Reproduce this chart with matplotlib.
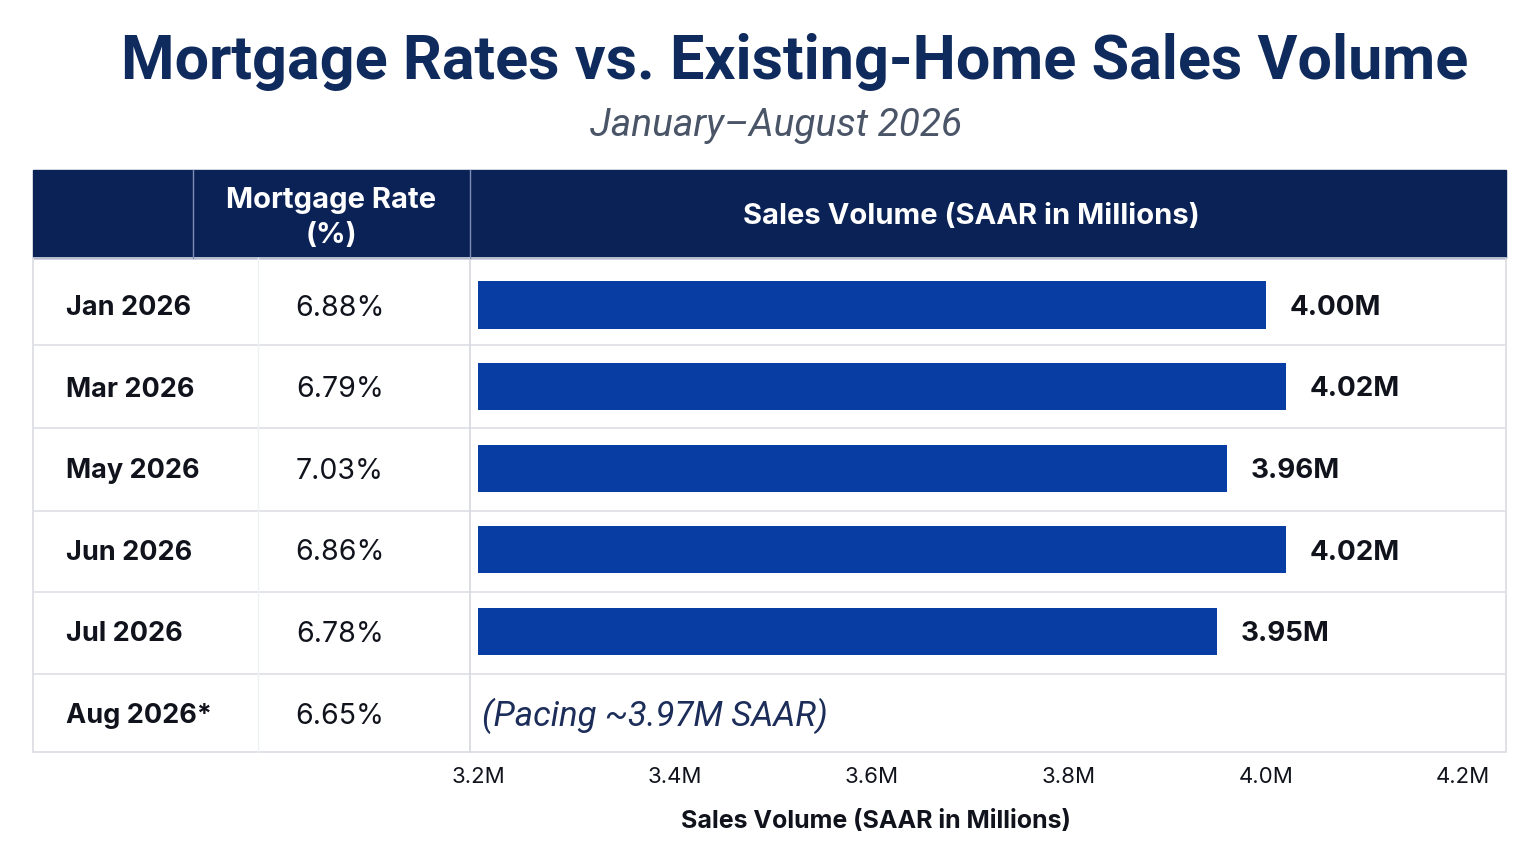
import matplotlib
matplotlib.use("Agg")
import matplotlib.pyplot as plt
from matplotlib.patches import Rectangle
import numpy as np

plt.rcParams['font.family'] = ['Inter', 'Roboto', 'DejaVu Sans']

# data
months = ["Jan 2026", "Mar 2026", "May 2026", "Jun 2026", "Jul 2026", "Aug 2026*"]
rates = [6.88, 6.79, 7.03, 6.86, 6.78, 6.65]
sales = [4.00, 4.02, 3.96, 4.02, 3.95, np.nan]   # Aug has no bar, only a note
pacing_note = "(Pacing ~3.97M SAAR)"
ticks = [3.2, 3.4, 3.6, 3.8, 4.0, 4.2]
base = 3.2

navy = "#0b2257"
bar_blue = "#083ea3"
text_dark = "#10131c"
line_col = "#dfe2e8"

W, H = 1536, 850
fig = plt.figure(figsize=(W / 100, H / 100), dpi=100)
fig.patch.set_facecolor("white")

# layout layer in pixel coords
lay = fig.add_axes([0, 0, 1, 1])
lay.set_xlim(0, W)
lay.set_ylim(H, 0)
lay.axis("off")

left, right = 33, 1506
head_top, body_top, body_bot = 170, 258, 752
c1, c2 = 258, 470
row_lines = [345, 428, 511, 592, 674]
first_row, row_h = 305, 81.6   # centre of first row, spacing

lay.text(795, 62, "Mortgage Rates vs. Existing-Home Sales Volume", ha="center", va="center",
         fontsize=44, fontweight="bold", color="#0f2a5c",
         family=["Liberation Sans Narrow", "Roboto", "DejaVu Sans"])
lay.text(776, 125, "January\u2013August 2026", ha="center", va="center",
         fontsize=28, style="italic", color="#4a5568", family=["Roboto", "DejaVu Sans"])

# header
lay.add_patch(Rectangle((left, head_top), right - left, body_top - head_top, color=navy, zorder=1))
for x in (193, c2):
    lay.plot([x, x], [head_top, body_top], color="#7f8db3", lw=1, zorder=2)
lay.text(331, 218, "Mortgage Rate\n(%)", ha="center", va="center", color="white",
         fontsize=21, fontweight="bold", linespacing=1.35, zorder=3)
lay.text(971, 216, "Sales Volume (SAAR in Millions)", ha="center", va="center", color="white",
         fontsize=21, fontweight="bold", zorder=3)

# body grid
lay.add_patch(Rectangle((left, body_top), right - left, body_bot - body_top, fill=False,
                        ec="#d9dce3", lw=1.2, zorder=1))
for y in row_lines:
    lay.plot([left, right], [y, y], color=line_col, lw=1.3, zorder=1)
lay.plot([c1, c1], [body_top, body_bot], color="#eef0f3", lw=1, zorder=1)
lay.plot([c2, c2], [body_top, body_bot], color="#d5d8de", lw=1.2, zorder=1)

for i, (m, r) in enumerate(zip(months, rates)):
    yc = first_row + i * row_h + 3
    lay.text(66, yc, m, ha="left", va="center", fontsize=19.5, fontweight="bold", color=text_dark)
    lay.text(340, yc, f"{r:.2f}%", ha="center", va="center", fontsize=20.5, color=text_dark)

# bar area
px_per_m = 985
xmin = base - (478 - c2) / px_per_m
xmax = xmin + (right - c2) / px_per_m
ax = fig.add_axes([c2 / W, 1 - body_bot / H, (right - c2) / W, (body_bot - body_top) / H])
ax.set_facecolor("none")
ypos = np.arange(len(months))
vals = np.array(sales)
mask = ~np.isnan(vals)
ax.barh(ypos[mask], vals[mask] - base, left=base, height=0.58, color=bar_blue)
for y, v in zip(ypos[mask], vals[mask]):
    ax.annotate(f"{v:.2f}M", (v, y), xytext=(17, -2), textcoords="offset points",
                ha="left", va="center", fontsize=20, fontweight="bold", color=text_dark)
ax.annotate(pacing_note, (base, ypos[-1]), xytext=(3, -2), textcoords="offset points",
            ha="left", va="center", fontsize=25, style="italic",
            color="#1c2d5a", family=["Roboto", "DejaVu Sans"])
ax.set_xlim(xmin, xmax)
ax.set_ylim((body_bot - first_row) / row_h, -(first_row - body_top) / row_h)
ax.set_yticks([])
ax.set_xticks(ticks)
ax.set_xticklabels([f"{t:.1f}M" for t in ticks], fontsize=16, color=text_dark)
ax.tick_params(axis="x", length=0, pad=11)
for s in ax.spines.values():
    s.set_visible(False)
ax.set_xlabel("Sales Volume (SAAR in Millions)", fontsize=18, fontweight="bold", color=text_dark)
ax.xaxis.set_label_coords((876 - c2) / (right - c2), -0.118)

fig.savefig("out.png", dpi=100, facecolor="white")
